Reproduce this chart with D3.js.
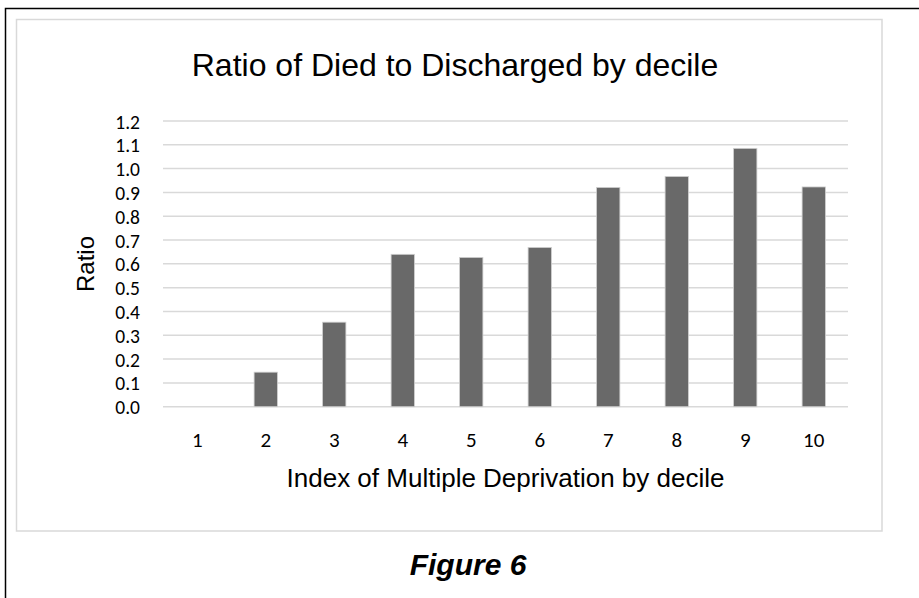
<!DOCTYPE html>
<html>
<head>
<meta charset="utf-8">
<script src="https://cdn.jsdelivr.net/npm/d3@7"></script>
<style>
  html, body { margin: 0; padding: 0; background: #ffffff; }
  svg { display: block; }
</style>
</head>
<body>
<svg id="chart" width="919" height="598"></svg>
<script>
const deciles = ["1", "2", "3", "4", "5", "6", "7", "8", "9", "10"];
const ratios = [0, 0.145, 0.355, 0.64, 0.627, 0.669, 0.921, 0.967, 1.085, 0.923];
const yTicks = [0, 0.1, 0.2, 0.3, 0.4, 0.5, 0.6, 0.7, 0.8, 0.9, 1.0, 1.1, 1.2];
const titleText = "Ratio of Died to Discharged by decile";
const xTitle = "Index of Multiple Deprivation by decile";
const yTitle = "Ratio";
const caption = "Figure 6";

const svg = d3.select("#chart");
const arial = "'Liberation Sans', Arial, sans-serif";
const tickFont = "Calibri, Carlito, Lato, sans-serif";

// outer black frame (extends past right/bottom edges)
svg.append("path")
  .attr("d", "M5.5,604 L5.5,8.5 L925,8.5")
  .attr("fill", "none").attr("stroke", "#000").attr("stroke-width", 1.5);

// inner chart area border
svg.append("rect")
  .attr("x", 16.5).attr("y", 19.5).attr("width", 865.5).attr("height", 511.5)
  .attr("fill", "#fff").attr("stroke", "#d9d9d9").attr("stroke-width", 1.5);

const x = d3.scaleBand().domain(deciles).range([163, 848]).paddingInner(0.66).paddingOuter(0.33);
const y = d3.scaleLinear().domain([0, 1.2]).range([406.7, 121]);

// gridlines
svg.append("g").selectAll("line").data(yTicks).join("line")
  .attr("x1", 163).attr("x2", 848)
  .attr("y1", d => y(d)).attr("y2", d => y(d))
  .attr("stroke", "#d9d9d9").attr("stroke-width", 1.5);

// y axis labels
const yAxis = d3.axisLeft(y).tickValues(yTicks).tickFormat(d3.format(".1f")).tickSize(0).tickPadding(0);
const yg = svg.append("g").attr("transform", "translate(140,0)").call(yAxis);
yg.select(".domain").remove();
yg.selectAll("text").attr("font-family", tickFont).attr("font-size", 19.5).attr("fill", "#000").attr("dy", "0.36em");

// x axis labels
const xAxis = d3.axisBottom(x).tickSize(0).tickPadding(0);
const xg = svg.append("g").attr("transform", "translate(0,447)").call(xAxis);
xg.select(".domain").remove();
xg.selectAll("text").attr("font-family", tickFont).attr("font-size", 21).attr("fill", "#000").attr("dy", "0");

// bars
svg.append("g").selectAll("rect").data(ratios).join("rect")
  .attr("x", (d, i) => x(deciles[i]))
  .attr("width", x.bandwidth())
  .attr("y", d => y(d))
  .attr("height", d => y(0) - y(d))
  .attr("fill", d => d > 0 ? "#696969" : "none")
  .attr("stroke", d => d > 0 ? "#cfcfcf" : "none")
  .attr("stroke-width", 0.8);

// title
svg.append("text").attr("x", 455).attr("y", 76).attr("text-anchor", "middle")
  .attr("font-family", arial).attr("font-size", 32).attr("fill", "#000").text(titleText);

// x title
svg.append("text").attr("x", 505.5).attr("y", 487).attr("text-anchor", "middle")
  .attr("font-family", arial).attr("font-size", 26).attr("fill", "#000").text(xTitle);

// y title
svg.append("text").attr("transform", "translate(94,264) rotate(-90)").attr("text-anchor", "middle")
  .attr("font-family", arial).attr("font-size", 24).attr("fill", "#000").text(yTitle);

// caption
svg.append("text").attr("x", 468).attr("y", 575).attr("text-anchor", "middle")
  .attr("font-family", arial).attr("font-size", 30).attr("font-weight", "bold").attr("font-style", "italic")
  .attr("fill", "#000").text(caption);
</script>
</body>
</html>
